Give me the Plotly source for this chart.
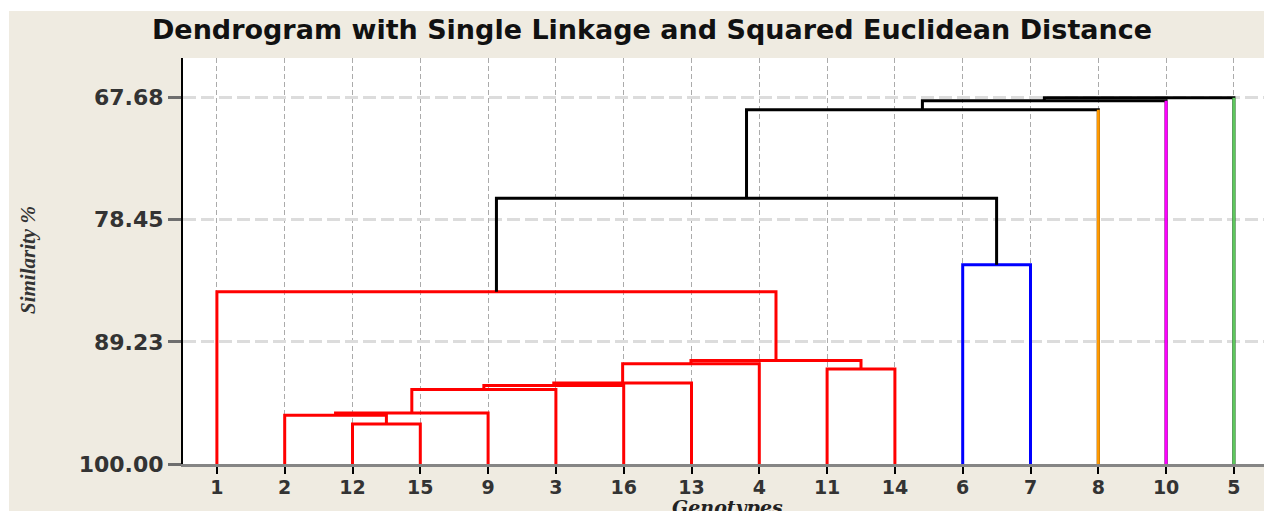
import plotly.graph_objects as go

# Leaf order along the horizontal axis
leaf_order = ["1", "2", "12", "15", "9", "3", "16", "13", "4", "11", "14", "6", "7", "8", "10", "5"]

# Cluster membership of each leaf
leaf_group = {
    "1": "A", "2": "A", "12": "A", "15": "A", "9": "A", "3": "A", "16": "A",
    "13": "A", "4": "A", "11": "A", "14": "A",
    "6": "B", "7": "B", "8": "C", "10": "D", "5": "E",
}

# Agglomeration steps: merge k joins merge_left[k] and merge_right[k]
# (a leaf label or an earlier step "m<k>") at the given similarity level
merge_left = ["12", "2", "m1", "m2", "m3", "m4", "m5", "11", "m6", "1", "6", "m9", "m11", "m12", "m13"]
merge_right = ["15", "m0", "9", "3", "16", "13", "4", "14", "m7", "m8", "7", "m10", "8", "10", "5"]
merge_similarity = [96.48, 95.70, 95.49, 93.43, 93.08, 92.86, 91.16, 91.62, 90.87, 84.81,
                    82.43, 76.55, 68.74, 67.95, 67.68]
merge_group = ["A", "A", "A", "A", "A", "A", "A", "A", "A", "A", "B", "root", "root", "root", "root"]

# Similarity axis ticks
y_ticks = [67.68, 78.45, 89.23, 100.00]

group_color = {
    "A": "#FF0000",
    "B": "#0000FF",
    "C": "#FF9900",
    "D": "#FF00FF",
    "E": "#5DC85D",
    "root": "#000000",
}

# Position and level of every node
pos = {lab: i + 1 for i, lab in enumerate(leaf_order)}
level = {lab: 100.0 for lab in leaf_order}
for k, (a, b, s) in enumerate(zip(merge_left, merge_right, merge_similarity)):
    pos[f"m{k}"] = (pos[a] + pos[b]) / 2.0
    level[f"m{k}"] = s

fig = go.Figure()
LW = 3

# Each merge is drawn as a bracket in the merge colour
for k, (a, b, s) in enumerate(zip(merge_left, merge_right, merge_similarity)):
    col = group_color[merge_group[k]]
    fig.add_trace(go.Scatter(
        x=[pos[a], pos[a], pos[b], pos[b]],
        y=[level[a], s, s, level[b]],
        mode="lines", line=dict(color=col, width=LW),
        hoverinfo="skip", showlegend=False,
    ))
    # leaf stems keep the colour of their own cluster
    for child in (a, b):
        if child in leaf_group and leaf_group[child] != merge_group[k]:
            fig.add_trace(go.Scatter(
                x=[pos[child], pos[child]], y=[level[child], s],
                mode="lines", line=dict(color=group_color[leaf_group[child]], width=LW),
                hoverinfo="skip", showlegend=False,
            ))

W, H = 1264, 511
ML, MR, MT, MB = 183, 0, 58, 47
pw, ph = W - ML - MR, H - MT - MB


def px_x(x):
    return (x - ML) / pw


def px_y(y):
    return (H - MB - y) / ph


fig.update_layout(
    width=W, height=H,
    margin=dict(l=ML, r=MR, t=MT, b=MB, pad=0),
    paper_bgcolor="#EFEBE1",
    plot_bgcolor="#FFFFFF",
    showlegend=False,
    title=dict(
        text="Dendrogram with Single Linkage and Squared Euclidean Distance",
        font=dict(family="DejaVu Sans", size=27, color="#111111", weight="bold"),
        x=652 / W, xref="container", xanchor="center",
        y=1 - 30 / H, yref="container", yanchor="middle",
    ),
    xaxis=dict(
        range=[0.5, 0.5 + pw / 67.8],
        tickmode="array",
        tickvals=list(range(1, len(leaf_order) + 1)),
        ticktext=leaf_order,
        showgrid=True, gridcolor="#ABABAB", gridwidth=1, griddash="5px,3px",
        showline=True, linecolor="#858585", linewidth=3,
        ticks="outside", ticklen=7, tickwidth=2, tickcolor="#000000",
        ticklabelstandoff=-3,
        tickfont=dict(family="DejaVu Sans", size=19, color="#333333", weight="bold"),
        zeroline=False, fixedrange=True,
    ),
    yaxis=dict(
        range=[100.0, 64.18],
        tickmode="array",
        tickvals=y_ticks,
        ticktext=[f"{v:.2f}" for v in y_ticks],
        showgrid=True, gridcolor="#DCDCDC", gridwidth=3, griddash="13px,5px",
        showline=True, linecolor="#000000", linewidth=2,
        ticks="outside", ticklen=13, tickwidth=3, tickcolor="#6E6E6E",
        tickfont=dict(family="DejaVu Sans", size=22, color="#333333", weight="bold"),
        zeroline=False, fixedrange=True,
    ),
    annotations=[
        dict(text="Similarity %", x=px_x(28), y=px_y(260), xref="paper", yref="paper",
             textangle=-90, showarrow=False, xanchor="center", yanchor="middle",
             font=dict(family="Liberation Serif", size=21, color="#333333",
                       style="italic", weight="bold")),
        dict(text="Genotypes", x=px_x(727), y=px_y(494), xref="paper", yref="paper",
             showarrow=False, xanchor="center", yanchor="top",
             font=dict(family="DejaVu Serif", size=19, color="#222222", style="italic", weight="bold")),
    ],
    shapes=[
        # thin white frame along the top and left edges of the page
        dict(type="rect", xref="paper", yref="paper", x0=px_x(-5), x1=px_x(W + 5),
             y0=px_y(11), y1=px_y(-5), fillcolor="#FFFFFF", line=dict(width=0), layer="below"),
        dict(type="rect", xref="paper", yref="paper", x0=px_x(-5), x1=px_x(9),
             y0=px_y(H + 5), y1=px_y(-5), fillcolor="#FFFFFF", line=dict(width=0), layer="below"),
    ],
)

fig.write_html("out.html")
